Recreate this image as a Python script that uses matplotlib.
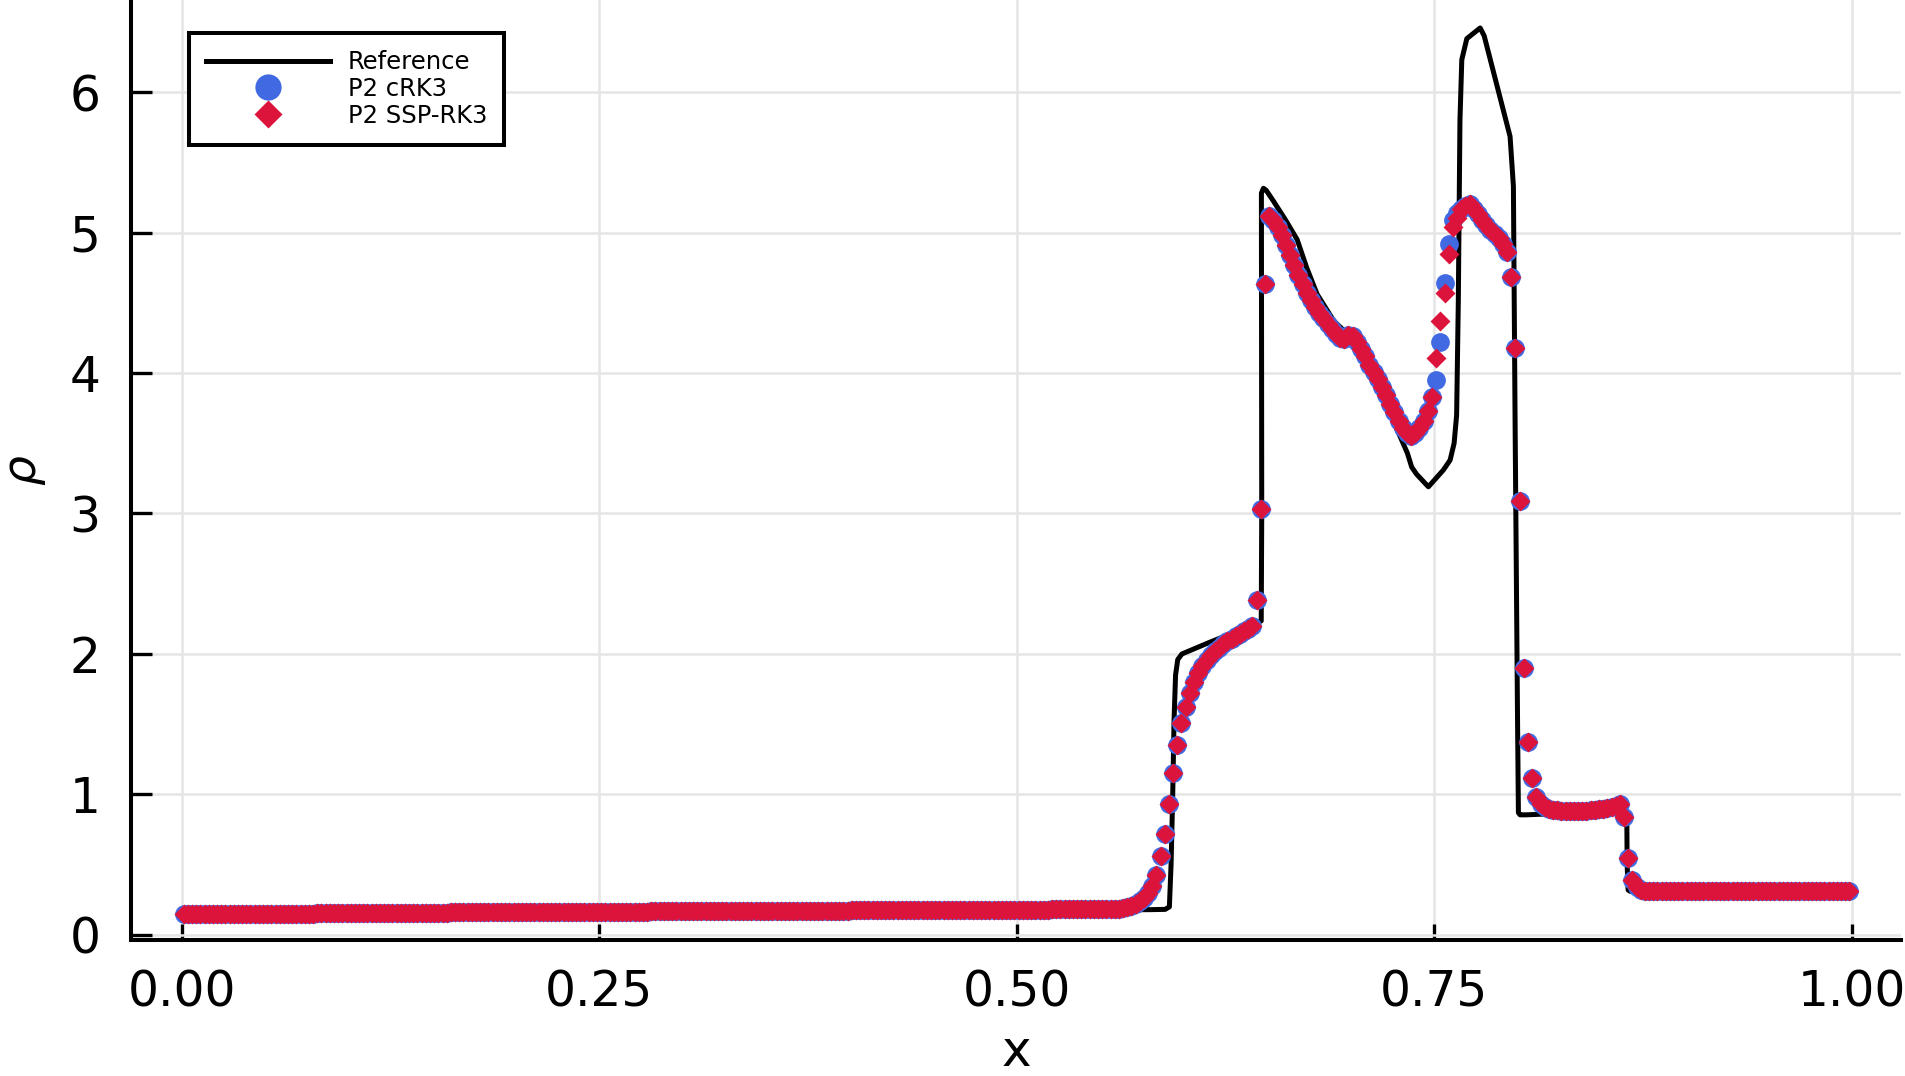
"""Blast-wave density at the final time: reference vs. P2 cRK3 and SSP-RK3."""

import numpy as np
import matplotlib

matplotlib.use("Agg")
import matplotlib.pyplot as plt


# Reference (fine-grid) solution, vertices
ref_x = [0.0, 0.1, 0.2, 0.3, 0.4, 0.5, 0.55, 0.58, 0.589,
         0.5915, 0.5925, 0.5935, 0.5943, 0.5952, 0.5965, 0.599, 0.616, 0.634,
         0.6465, 0.6468, 0.6466, 0.6478, 0.6495, 0.654, 0.661, 0.668, 0.6737,
         0.68, 0.69, 0.697, 0.702, 0.71, 0.7177, 0.7296, 0.734, 0.7366,
         0.7395, 0.7466, 0.7556, 0.7596, 0.762, 0.7635, 0.7645, 0.7655, 0.7666,
         0.7696, 0.7776, 0.78, 0.7955, 0.7975, 0.7985, 0.80, 0.8005, 0.8015,
         0.805, 0.82, 0.84, 0.86, 0.8654, 0.8656, 0.8662, 0.8675, 1.0]
ref_y = [0.15, 0.157, 0.163, 0.168, 0.173, 0.177, 0.179, 0.18, 0.182,
         0.20, 0.5, 1.0, 1.53, 1.85, 1.96, 2.0, 2.085, 2.17,
         2.235, 3.0, 5.28, 5.315, 5.30, 5.22, 5.09, 4.95, 4.75,
         4.56, 4.37, 4.29, 4.24, 4.10, 3.88, 3.55, 3.43, 3.33,
         3.28, 3.19, 3.31, 3.38, 3.50, 3.70, 4.5, 5.8, 6.23,
         6.38, 6.456, 6.40, 5.684, 5.33, 3.67, 1.5, 0.87, 0.855,
         0.855, 0.862, 0.868, 0.872, 0.87, 0.5, 0.32, 0.31, 0.31]

# P2 solution points (400 plotting points, uniform spacing 0.0025)
x_pts = np.linspace(0.00125, 0.99875, 400)

rho_left = [  # x = 0.00125 ... 0.55875
    0.150, 0.150, 0.150, 0.150, 0.150, 0.150, 0.150, 0.150, 0.150, 0.150, 0.150, 0.150, 0.150, 0.150, 0.150, 0.150,
    0.152, 0.152, 0.152, 0.152, 0.152, 0.152, 0.152, 0.152, 0.152, 0.152, 0.152, 0.152, 0.152, 0.152, 0.152, 0.152,
    0.155, 0.155, 0.155, 0.155, 0.155, 0.155, 0.155, 0.155, 0.155, 0.155, 0.155, 0.155, 0.155, 0.155, 0.155, 0.155,
    0.157, 0.157, 0.157, 0.157, 0.157, 0.157, 0.157, 0.157, 0.157, 0.157, 0.157, 0.157, 0.157, 0.157, 0.157, 0.157,
    0.160, 0.160, 0.160, 0.160, 0.160, 0.160, 0.160, 0.160, 0.160, 0.160, 0.160, 0.160, 0.160, 0.160, 0.160, 0.160,
    0.162, 0.162, 0.162, 0.162, 0.162, 0.162, 0.162, 0.162, 0.162, 0.162, 0.162, 0.162, 0.162, 0.162, 0.162, 0.162,
    0.165, 0.165, 0.165, 0.165, 0.165, 0.165, 0.165, 0.165, 0.165, 0.165, 0.165, 0.165, 0.165, 0.165, 0.165, 0.165,
    0.167, 0.167, 0.167, 0.167, 0.167, 0.167, 0.167, 0.167, 0.167, 0.167, 0.167, 0.167, 0.167, 0.167, 0.167, 0.167,
    0.170, 0.170, 0.170, 0.170, 0.170, 0.170, 0.170, 0.170, 0.170, 0.170, 0.170, 0.170, 0.170, 0.170, 0.170, 0.170,
    0.172, 0.172, 0.172, 0.172, 0.172, 0.172, 0.172, 0.172, 0.172, 0.172, 0.172, 0.172, 0.172, 0.172, 0.172, 0.172,
    0.175, 0.175, 0.175, 0.175, 0.175, 0.175, 0.175, 0.175, 0.175, 0.175, 0.175, 0.175, 0.175, 0.175, 0.175, 0.175,
    0.178, 0.178, 0.178, 0.178, 0.178, 0.178, 0.178, 0.178, 0.178, 0.178, 0.178, 0.178, 0.178, 0.178, 0.178, 0.178,
    0.181, 0.181, 0.181, 0.181, 0.181, 0.181, 0.181, 0.181, 0.181, 0.181, 0.181, 0.181, 0.181, 0.181, 0.181, 0.181,
    0.184, 0.184, 0.184, 0.184, 0.184, 0.184, 0.184, 0.184, 0.184, 0.184, 0.184, 0.184, 0.184, 0.184, 0.184, 0.184,
]
rho_mid = [  # x = 0.56125 ... 0.87625
    0.188, 0.192, 0.198, 0.208, 0.222, 0.240, 0.265, 0.300, 0.350, 0.430, 0.560, 0.720, 0.930, 1.150, 1.350, 1.510,
    1.625, 1.720, 1.800, 1.865, 1.915, 1.955, 1.990, 2.020, 2.045, 2.070, 2.090, 2.110, 2.130, 2.145, 2.160, 2.175,
    2.200, 2.385, 3.030, 4.630, 5.120, 5.090, 5.040, 4.980, 4.910, 4.840, 4.770, 4.700, 4.630, 4.570, 4.520, 4.470,
    4.430, 4.390, 4.350, 4.310, 4.280, 4.250, 4.240, 4.270, 4.260, 4.220, 4.170, 4.120, 4.060, 4.010, 3.960, 3.900,
    3.840, 3.780, 3.720, 3.660, 3.610, 3.570, 3.550, 3.570, 3.610, 3.660, 3.730, 3.830, 3.950, 4.220, 4.640, 4.920,
    5.090, 5.140, 5.170, 5.190, 5.200, 5.170, 5.130, 5.090, 5.050, 5.020, 4.990, 4.960, 4.920, 4.860, 4.680, 4.180,
    3.090, 1.900, 1.370, 1.120, 0.980, 0.930, 0.910, 0.900, 0.890, 0.890, 0.885, 0.880, 0.880, 0.880, 0.880, 0.885,
    0.885, 0.890, 0.890, 0.895, 0.900, 0.905, 0.910, 0.920, 0.930, 0.840, 0.550, 0.390, 0.340, 0.320, 0.315,
]
rho_right = [  # x = 0.87875 ... 0.99875
    0.310, 0.310, 0.310, 0.310, 0.310, 0.310, 0.310, 0.310, 0.310, 0.310, 0.310, 0.310, 0.310, 0.310, 0.310, 0.310,
    0.310, 0.310, 0.310, 0.310, 0.310, 0.310, 0.310, 0.310, 0.310, 0.310, 0.310, 0.310, 0.310, 0.310, 0.310, 0.310,
    0.310, 0.310, 0.310, 0.310, 0.310, 0.310, 0.310, 0.310, 0.310, 0.310, 0.310, 0.310, 0.310, 0.310, 0.310, 0.310,
    0.310,
]
rho_crk3 = np.array(rho_left + rho_mid + rho_right)

# SSP-RK3 only differs visibly on the left flank of the second peak
ssp_diff = {300: 4.11, 301: 4.37, 302: 4.57, 303: 4.85, 304: 5.04, 305: 5.10}
rho_ssp = rho_crk3.copy()
for i, v in ssp_diff.items():
    rho_ssp[i] = v

x_ticks = [0.0, 0.25, 0.5, 0.75, 1.0]
x_ticklabels = ["0.00", "0.25", "0.50", "0.75", "1.00"]
y_ticks = [0, 1, 2, 3, 4, 5, 6]


W, H = 1905, 1076
fig = plt.figure(figsize=(W / 100, H / 100), dpi=100)
ax = fig.add_axes([131 / W, 136 / H, 1770 / W, 940 / H])

ax.plot(ref_x, ref_y, color="black", lw=3.6, solid_joinstyle="round", label="Reference", zorder=3)
ax.plot(x_pts, rho_crk3, "o", ms=13.5, color="royalblue", mec="none", label="P2 cRK3", zorder=4)
ax.plot(x_pts, rho_ssp, "D", ms=10, color="crimson", mec="none", label="P2 SSP-RK3", zorder=5)

ax.set_xlim(-0.0303, 1.0296)
ax.set_ylim(-0.036, 6.655)
ax.set_xticks(x_ticks, x_ticklabels)
ax.set_yticks(y_ticks)

for side in ("top", "right"):
    ax.spines[side].set_visible(False)
for side in ("left", "bottom"):
    ax.spines[side].set_linewidth(2.9)

ax.tick_params(direction="in", labelsize=35, width=2.4)
ax.tick_params(axis="x", length=11.5, pad=20.5)
ax.tick_params(axis="y", length=15, pad=22)
ax.grid(True, color="#e5e5e5", lw=1.8)
ax.set_axisbelow(True)

ax.set_xlabel("x", fontsize=36)
ax.xaxis.set_label_coords(0.5, -0.094)
ax.set_ylabel(r"$\rho$", fontsize=34)
ax.yaxis.set_label_coords(-0.047, 0.5)

leg = ax.legend(loc="upper left", bbox_to_anchor=(0.0328, 0.9649), borderaxespad=0,
                fontsize=17.5, fancybox=False, edgecolor="black", framealpha=1,
                borderpad=0.7, labelspacing=0.12, handlelength=5.1, handletextpad=0.72,
                markerscale=1.4)
leg.get_frame().set_linewidth(2.9)

fig.savefig("out.png", dpi=100)
